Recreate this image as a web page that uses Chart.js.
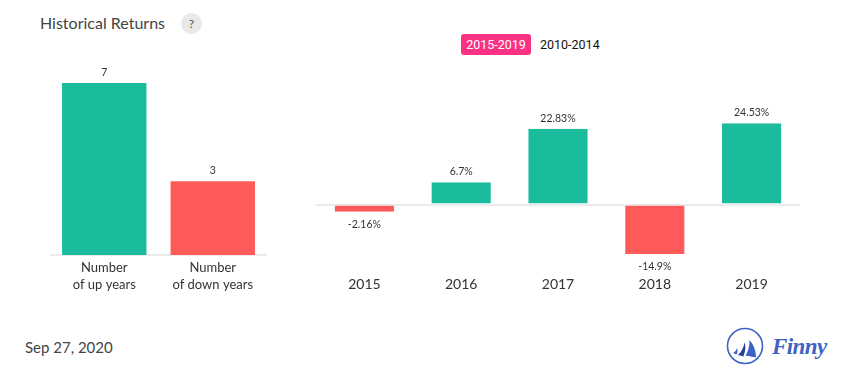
<!DOCTYPE html>
<html>
<head>
<meta charset="utf-8">
<title>Historical Returns</title>
<script src="https://cdn.jsdelivr.net/npm/chart.js@4/dist/chart.umd.min.js"></script>
<style>
    html, body { margin: 0; padding: 0; background: #fff; overflow: hidden; }
    body { width: 855px; height: 382px; position: relative; font-family: Lato, sans-serif; }
    canvas { position: absolute; }
    #countChart { left: 50px; top: 60px; }
    #yearChart { left: 316px; top: 60px; }
    .abs { position: absolute; white-space: nowrap; }
    #title { left: 40px; top: 13px; font-size: 16px; color: #444; }
    #help { left: 181px; top: 13px; width: 21px; height: 21px; line-height: 21px; border-radius: 50%; background: #e9e9e9; color: #555; font-size: 12px; text-align: center; }
    #range1 { left: 461px; top: 34px; width: 70px; height: 21px; border-radius: 3px; background: #fb3184; color: #fff; text-align: center; font: 12.5px/21px Roboto, sans-serif; }
    #range2 { left: 540px; top: 34px; font: 12.5px/21px Roboto, sans-serif; color: #111; }
    #date { left: 25px; top: 338px; font-size: 15px; line-height: 19px; color: #444; }
    #logo { left: 726px; top: 327px; }
    #brand { left: 772px; top: 331px; font-family: "Liberation Serif", serif; font-size: 23px; letter-spacing: -0.6px; line-height: 32px; font-weight: 700; font-style: italic; color: #3f63c4; }
</style>
</head>
<body>
<div class="abs" id="title">Historical Returns</div>
<div class="abs" id="help">?</div>
<div class="abs" id="range1">2015-2019</div>
<div class="abs" id="range2">2010-2014</div>
<canvas id="countChart" width="217" height="240"></canvas>
<canvas id="yearChart" width="484" height="260"></canvas>
<div class="abs" id="date">Sep 27, 2020</div>
<svg class="abs" id="logo" width="38" height="38" viewBox="0 0 38 38">
    <circle cx="19" cy="19" r="17.5" fill="none" stroke="#3f63c4" stroke-width="1.6"/>
    <path d="M23.5 13 C28 18 30 24 30 30.5 L19.5 28.5 C22.5 24 23.5 19 23.5 13 Z" fill="#3f63c4"/>
    <path d="M18.5 15 C20 20 19.5 25 17.5 28.5 L18 29.5 L12 28 C15.5 25 18 20 18.5 15 Z" fill="#24409c"/>
    <path d="M11 21 C12 23.5 11.5 26 10.5 27.5 L7 26 C9 25 10.5 23 11 21 Z" fill="#3f63c4"/>
</svg>
<div class="abs" id="brand">Finny</div>
<script>
    var countLabels = [['Number', 'of up years'], ['Number', 'of down years']];
    var countValues = [7, 3];
    var years = ['2015', '2016', '2017', '2018', '2019'];
    var returns = [-2.16, 6.7, 22.83, -14.9, 24.53];
    var returnLabels = ['-2.16%', '6.7%', '22.83%', '-14.9%', '24.53%'];

    var UP = '#1abc9c';
    var DOWN = '#ff5a5a';
    var LINE = '#ebebeb';

    // writes the value above or below each bar
    var barLabels = {
        id: 'barLabels',
        afterDatasetsDraw: function (chart, args, opts) {
            var ctx = chart.ctx;
            var meta = chart.getDatasetMeta(0);
            ctx.save();
            ctx.font = '10.5px Lato';
            ctx.fillStyle = '#333';
            ctx.textAlign = 'center';
            ctx.textBaseline = 'middle';
            meta.data.forEach(function (bar, i) {
                var value = chart.data.datasets[0].data[i];
                var y = value < 0 ? bar.y + 13 : bar.y - 10.5;
                ctx.fillText(opts.text[i], bar.x, y);
            });
            ctx.restore();
        }
    };

    new Chart(document.getElementById('countChart'), {
        type: 'bar',
        plugins: [barLabels],
        data: {
            labels: countLabels,
            datasets: [{
                data: countValues,
                backgroundColor: [UP, DOWN],
                barPercentage: 0.778,
                categoryPercentage: 1
            }]
        },
        options: {
            responsive: false,
            animation: false,
            layout: { padding: { top: 23, left: 0, right: 0, bottom: 0 } },
            plugins: { legend: { display: false }, tooltip: { enabled: false }, barLabels: { text: countValues.map(String) } },
            scales: {
                x: {
                    grid: { display: false },
                    border: { color: LINE, width: 2 },
                    ticks: { color: '#333', font: { family: 'Lato', size: 13, lineHeight: 1.25 }, maxRotation: 0, autoSkip: false, padding: -3 },
                    afterFit: function (scale) { scale.height = 45; }
                },
                y: { display: false, min: 0, max: 7 }
            }
        }
    });

    new Chart(document.getElementById('yearChart'), {
        type: 'bar',
        plugins: [barLabels],
        data: {
            labels: years,
            datasets: [{
                data: returns,
                backgroundColor: returns.map(function (v) { return v < 0 ? DOWN : UP; }),
                borderColor: '#fff',
                borderWidth: { left: 1, right: 1, top: 0, bottom: 0 },
                borderSkipped: false,
                barPercentage: 0.631,
                categoryPercentage: 1
            }]
        },
        options: {
            responsive: false,
            animation: false,
            layout: { padding: { top: 45, left: 0, right: 0, bottom: 0 } },
            plugins: { legend: { display: false }, tooltip: { enabled: false }, barLabels: { text: returnLabels } },
            scales: {
                x: {
                    grid: { display: false },
                    border: { display: false },
                    ticks: { color: '#333', font: { family: 'Lato', size: 14 }, maxRotation: 0, autoSkip: false, padding: -3 },
                    afterFit: function (scale) { scale.height = 49; }
                },
                y: {
                    min: -20,
                    max: 30,
                    border: { display: false },
                    ticks: { display: false, stepSize: 10 },
                    grid: {
                        drawTicks: false,
                        lineWidth: 2,
                        color: function (c) { return c.tick.value === 0 ? LINE : 'rgba(0,0,0,0)'; }
                    },
                    afterFit: function (scale) { scale.width = 0; }
                }
            }
        }
    });
</script>
</body>
</html>
